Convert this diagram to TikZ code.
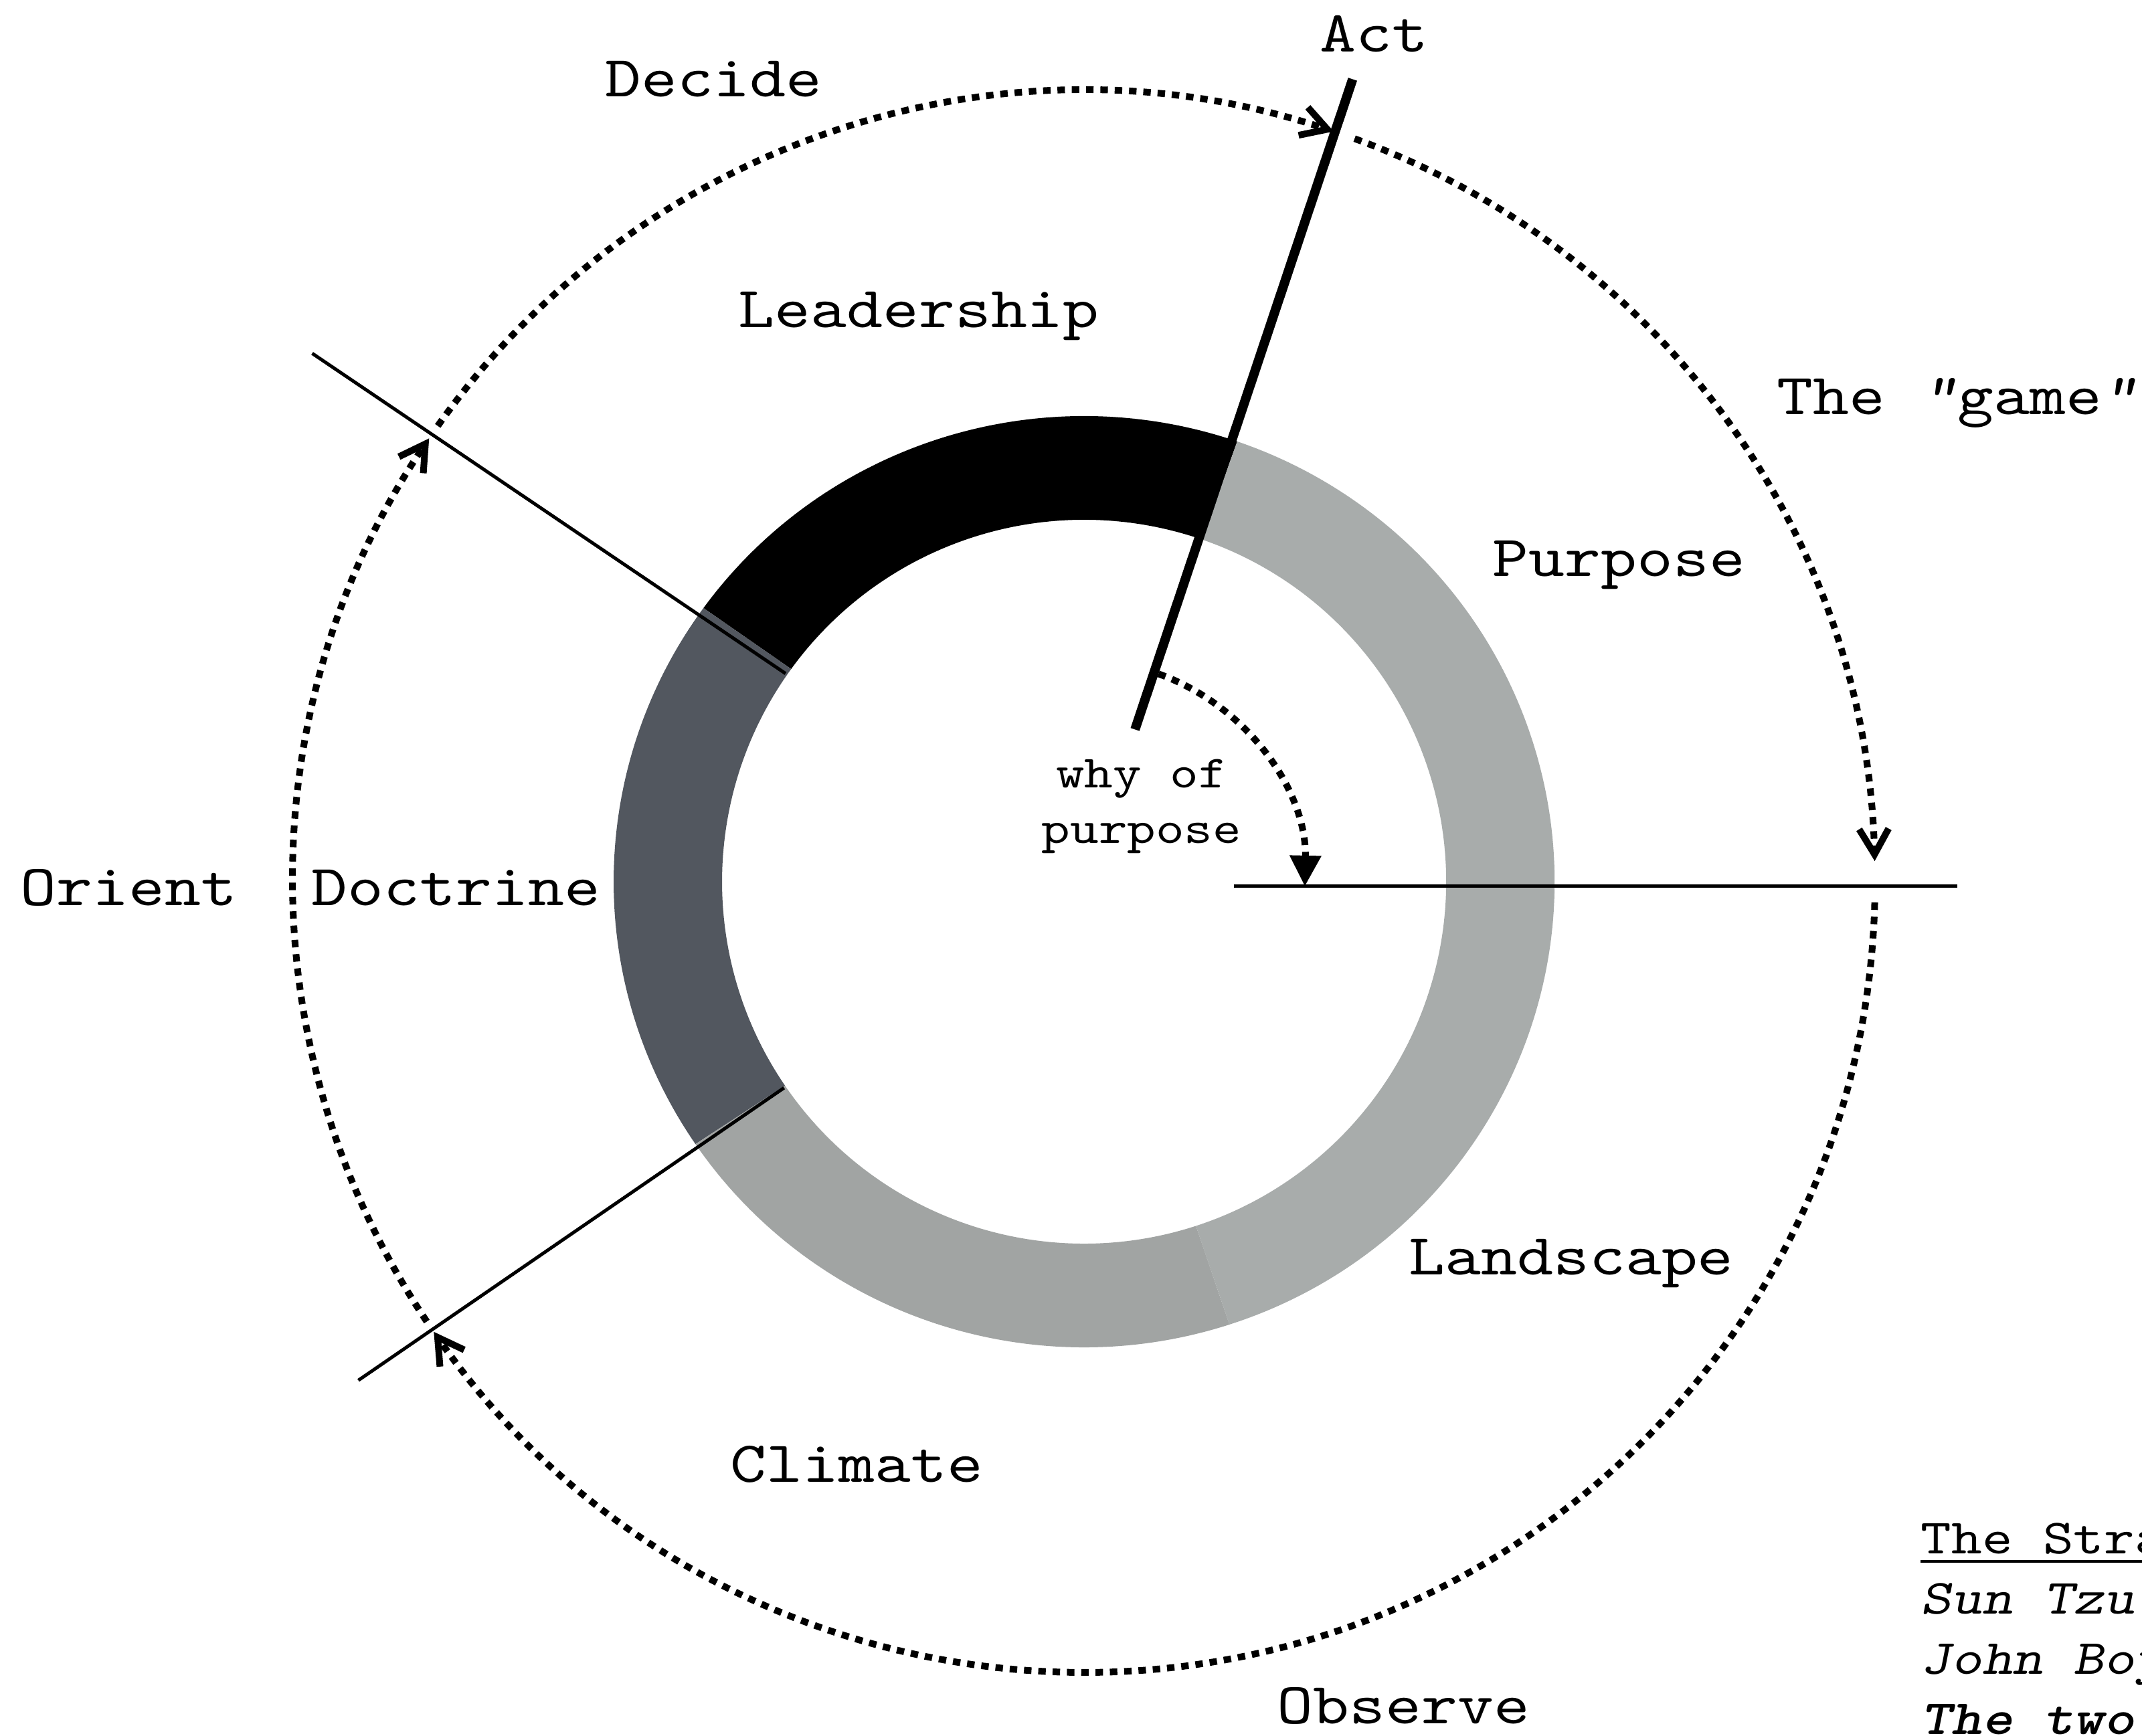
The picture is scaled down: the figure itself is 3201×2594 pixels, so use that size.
\documentclass[tikz,border=0pt]{standalone}
\usepackage{fontspec}
\newfontfamily\mono{lmmono10-regular.otf}[FakeStretch=1.18, ItalicFont=lmmonoslant10-regular.otf, BoldFont=lmmonolt10-bold.otf, BoldItalicFont=lmmonolt10-boldoblique.otf]
\usetikzlibrary{arrows.meta}
\definecolor{slate}{HTML}{52575F}
\definecolor{climate}{HTML}{A1A4A3}
\definecolor{purp}{HTML}{A8ACAB}
\newcommand\ringseg[3]{\fill[#1] (#2:703 and 696) arc[start angle=#2,end angle=#3,x radius=703,y radius=696] -- (#3:541) arc[start angle=#3,end angle=#2,radius=541] -- cycle;}
\begin{document}
\begin{tikzpicture}[x=0.25pt,y=0.25pt,
  lbl/.style={font=\mono\fontsize{21.75}{26}\selectfont, inner sep=0pt, anchor=base west},
  leg/.style={font=\mono\fontsize{18.4}{22.5}\selectfont, inner sep=0pt, anchor=base west},
  dotline/.style={line width=2.5pt, dash pattern=on 2.8pt off 2.55pt},
  barb/.style={-{Straight Barb[length=9.5pt,width=11pt]}},
  tri/.style={-{Triangle[length=11.5pt,width=11.25pt]}},
  thinline/.style={line width=1.25pt},
  thickline/.style={line width=3.5pt}]
\useasboundingbox (0,0) rectangle (3201,2594);
\clip (0,0) rectangle (3201,2594);
\fill[white] (0,0) rectangle (3201,2594);
\begin{scope}[shift={(1620,1276)}]
  % ring
  \ringseg{black}{71}{144}
  \ringseg{slate}{144}{214.3}
  \ringseg{climate}{214.3}{288}
  \ringseg{purp}{-72}{71}
  % radial lines
  \coordinate (actA) at (71.5:240);
  \coordinate (actB) at (71.5:1265);
  \coordinate (hA) at (224,-7);
  \coordinate (hB) at (1305,-7);
  \coordinate (ulA) at (145.1:544);
  \coordinate (ulB) at (145.6:1398);
  \coordinate (llA) at (214.5:544);
  \coordinate (llB) at (214.5:1316);
  \draw[thickline] (actA) -- (actB);
  \draw[thinline] (hA) -- (hB);
  \draw[thinline] (ulA) -- (ulB);
  \draw[thinline] (llA) -- (llB);
  % outer dotted cycle
  \draw[dotline,barb] (144.8:1182) arc[start angle=144.8,end angle=71.6,radius=1182];
  \draw[dotline,barb] (70:1182) arc[start angle=70,end angle=1.5,radius=1182];
  \draw[dotline,barb] (-1.5:1182) arc[start angle=-1.5,end angle=-145.3,radius=1182];
  \draw[dotline,barb] (213.8:1182) arc[start angle=213.8,end angle=145.9,radius=1182];
  % inner dotted arrow
  \draw[dotline,tri] (70.3:330) arc[start angle=70.3,end angle=-1.2,radius=330];
\end{scope}
% labels
\node[lbl] (act) at (1972,2516) {Act};
\node[lbl] (decide) at (904,2449) {Decide};
\node[lbl] (leadership) at (1103,2104) {Leadership};
\node[lbl] (game) at (2655,1974) {The {\itshape "}game{\itshape "}};
\node[lbl] (purpose) at (2230,1732) {Purpose};
\node[lbl] (orient) at (30,1240) {Orient};
\node[lbl] (doctrine) at (465,1240) {Doctrine};
\node[lbl] (landscape) at (2105,689) {Landscape};
\node[lbl] (climate) at (1091,379) {Climate};
\node[lbl] (observe) at (1908,18) {Observe};
\node[font=\mono\fontsize{17.2}{20.75}\selectfont, inner sep=0pt, align=center, anchor=north] (why) at (1706,1460) {why of\\purpose};
% legend
\node[leg] (leg1) at (2870,272) {The Strategy Cycle};
\node[leg] (leg2) at (2870,182) {\itshape Sun Tzu};
\node[leg] (leg3) at (2870,92) {\itshape John Boyd};
\node[leg] (leg4) at (2870,2) {\bfseries\itshape The two combined};
\draw[line width=1pt] ([yshift=-3pt]leg1.base west) -- ([yshift=-3pt]leg1.base east);
\end{tikzpicture}
\end{document}
